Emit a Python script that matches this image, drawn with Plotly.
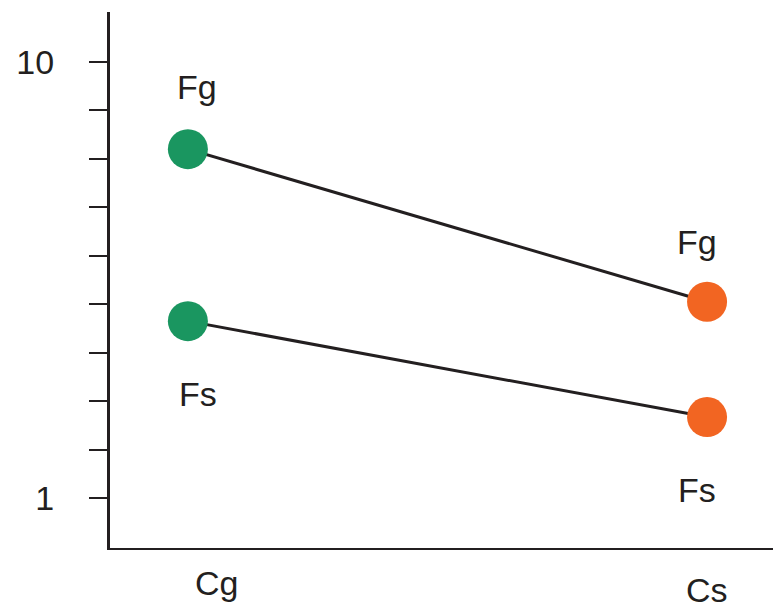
import plotly.graph_objects as go

categories = ["Cg", "Cs"]
series_names = ["Fg", "Fs"]
fg_values = [8.2, 5.05]
fs_values = [4.65, 2.67]
point_colors = ["#1a9660", "#f26522"]
y_tickvals = [1, 2, 3, 4, 5, 6, 7, 8, 9, 10]
y_ticktext = ["1", "", "", "", "", "", "", "", "", "10"]

FONT = "Arial, Liberation Sans, sans-serif"
INK = "#231f20"
xs = list(range(len(categories)))

fig = go.Figure()
for vals in (fg_values, fs_values):
    fig.add_trace(go.Scatter(
        x=xs, y=vals, mode="lines+markers",
        line=dict(color=INK, width=3),
        marker=dict(size=40, color=point_colors, line=dict(width=0)),
        showlegend=False, hoverinfo="skip",
    ))

ann = []
# series labels: Fg above points, Fs below points
for i, x in enumerate(xs):
    ann.append(dict(x=x, y=fg_values[i], text=series_names[0], showarrow=False,
                    xshift=9 if i == 0 else -10, yshift=62 if i == 0 else 60,
                    font=dict(size=34, family=FONT, color=INK)))
    ann.append(dict(x=x, y=fs_values[i], text=series_names[1], showarrow=False,
                    xshift=10 if i == 0 else -10, yshift=-73 if i == 0 else -73,
                    font=dict(size=34, family=FONT, color=INK)))
# category labels
for i, x in enumerate(xs):
    ann.append(dict(x=x, y=0, xref="x", yref="paper", yanchor="bottom",
                    text=categories[i], showarrow=False, borderpad=0,
                    xshift=29 if i == 0 else 0, yshift=-55 if i == 0 else -62,
                    font=dict(size=34, family=FONT, color=INK)))

fig.update_layout(
    width=773, height=610,
    margin=dict(l=110, r=0, t=12, b=62),
    paper_bgcolor="white", plot_bgcolor="white",
    annotations=ann,
    xaxis=dict(range=[-0.150, 1.127], showgrid=False, zeroline=False,
               showticklabels=False, ticks="", showline=True,
               linecolor=INK, linewidth=2),
    yaxis=dict(range=[-0.032, 11.03], showgrid=False, zeroline=False,
               tickvals=y_tickvals, ticktext=y_ticktext, ticks="outside",
               ticklen=18, tickwidth=2, tickcolor=INK,
               showline=True, linecolor=INK, linewidth=3,
               tickfont=dict(size=34, family=FONT, color=INK),
               ticklabelstandoff=28),
)

fig.write_html("out.html")
